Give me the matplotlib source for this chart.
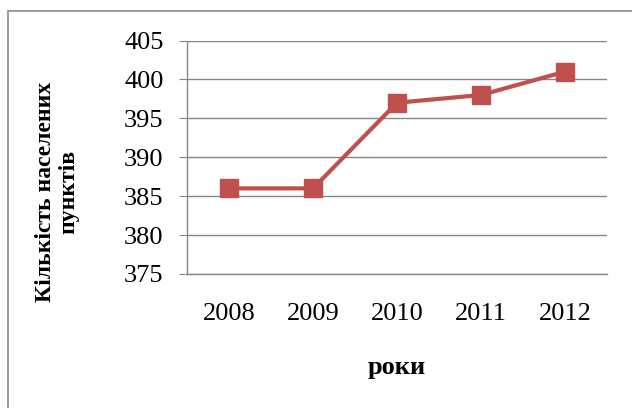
import matplotlib
matplotlib.use("Agg")
import matplotlib.pyplot as plt
from matplotlib.patches import Rectangle

# дані
years = ["2008", "2009", "2010", "2011", "2012"]
values = [386, 386, 397, 398, 401]
y_ticks = [375, 380, 385, 390, 395, 400, 405]

plt.rcParams["font.family"] = ["Liberation Serif", "DejaVu Serif"]

fig = plt.figure(figsize=(6.32, 4.08), dpi=100)
fig.patch.set_facecolor("white")

# рамка діаграми
fig.patches.append(Rectangle((8 / 632, -0.05), 1.2, 1 - 11 / 408 + 0.05,
                             transform=fig.transFigure, fill=False,
                             edgecolor="#8c8c8c", linewidth=1.2))

ax = fig.add_axes([187 / 632, 134 / 408, 420 / 632, 233.5 / 408])
x = range(len(years))
ax.plot(x, values, color="#c0504d", linewidth=3, marker="s",
        markersize=13, markerfacecolor="#c0504d", markeredgecolor="#c0504d",
        zorder=3, clip_on=False)

ax.set_xlim(-0.5, len(years) - 0.5)
ax.set_ylim(375, 405)
ax.set_yticks(y_ticks)
ax.set_xticks(list(x))
ax.set_xticklabels(years)
ax.yaxis.grid(True, color="#868686", linewidth=1)
ax.set_axisbelow(True)

for s in ["top", "right", "bottom"]:
    ax.spines[s].set_visible(False)
ax.spines["left"].set_color("#868686")
ax.spines["left"].set_linewidth(1)

ax.tick_params(axis="y", length=6, color="#868686", labelsize=19, pad=11)
ax.tick_params(axis="x", length=0, labelsize=19, pad=21)
# нижня лінія сітки як вісь
ax.axhline(375, color="#868686", linewidth=1, zorder=2, clip_on=False)

ax.set_xlabel("роки", fontsize=19, fontweight="bold", labelpad=22)

fig.text(57 / 632, 1 - 192 / 408, "Кількість населених\nпунктів",
         rotation=90, fontsize=17, fontweight="bold", ha="center",
         va="center", multialignment="center", linespacing=1.15)

fig.savefig("out.png", dpi=100)
